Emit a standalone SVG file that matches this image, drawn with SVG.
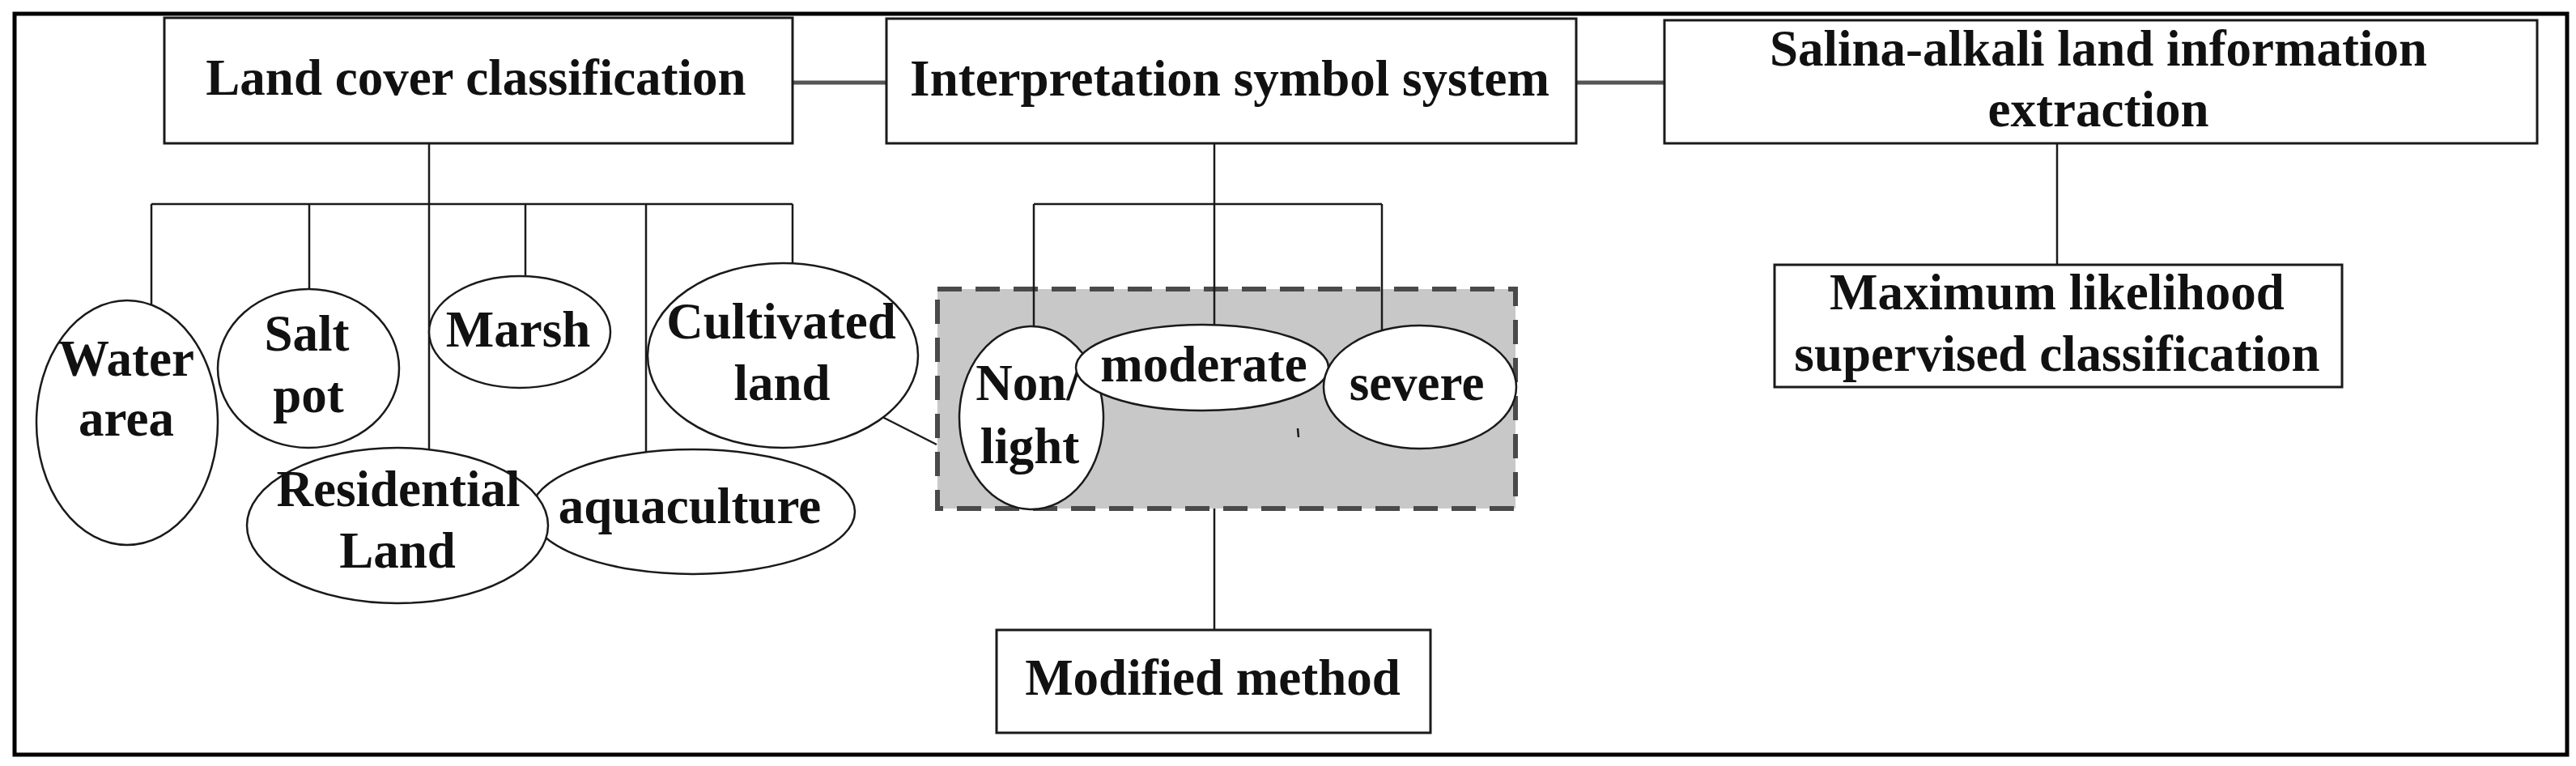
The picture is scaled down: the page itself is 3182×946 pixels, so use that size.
<svg xmlns="http://www.w3.org/2000/svg" width="3182" height="946" viewBox="0 0 3182 946">
<style>
.t{font-family:"Liberation Serif","Times New Roman",serif;font-weight:bold;font-size:63px;text-anchor:middle;fill:#111}
.box{fill:#fff;stroke:#1a1a1a;stroke-width:3}
.ell{fill:#fff;stroke:#1a1a1a;stroke-width:2.5}
.ln{stroke:#1a1a1a;stroke-width:2.5;fill:none}
.thick{stroke:#555;stroke-width:5;fill:none}
</style>
<rect width="3182" height="946" fill="#fff"/>
<rect id="frame" x="18" y="17" width="3153" height="915" fill="none" stroke="#000" stroke-width="5"/>
<g id="severity-group">
<rect x="1158" y="357" width="714" height="271" fill="#c8c8c8" stroke="#4a4a4a" stroke-width="6" stroke-dasharray="30 17"/>
</g>
<g id="connectors">
<line class="thick" x1="979" y1="102" x2="1095" y2="102"/>
<line class="thick" x1="1947" y1="102" x2="2056" y2="102"/>
<line class="ln" x1="530" y1="177" x2="530" y2="556"/>
<line class="ln" x1="187" y1="252" x2="979" y2="252"/>
<line class="ln" x1="187" y1="252" x2="187" y2="380"/>
<line class="ln" x1="382" y1="252" x2="382" y2="359"/>
<line class="ln" x1="649" y1="252" x2="649" y2="343"/>
<line class="ln" x1="798" y1="252" x2="798" y2="559"/>
<line class="ln" x1="979" y1="252" x2="979" y2="327"/>
<line class="ln" x1="1500" y1="177" x2="1500" y2="402"/>
<line class="ln" x1="1277" y1="252" x2="1707" y2="252"/>
<line class="ln" x1="1277" y1="252" x2="1277" y2="404"/>
<line class="ln" x1="1707" y1="252" x2="1707" y2="409"/>
<line class="ln" x1="1500" y1="628" x2="1500" y2="778"/>
<line class="ln" x1="2541" y1="177" x2="2541" y2="327"/>
<line class="ln" x1="1090" y1="515" x2="1157" y2="549"/>
<line class="ln" x1="1603" y1="529" x2="1604" y2="540" stroke-width="2"/>
</g>
<g id="land-cover">
<rect class="box" x="203" y="22" width="776" height="155"/>
<text class="t" x="588" y="117">Land cover classification</text>
</g>
<g id="interpretation">
<rect class="box" x="1095" y="23" width="852" height="154"/>
<text class="t" x="1519" y="118">Interpretation symbol system</text>
</g>
<g id="salina">
<rect class="box" x="2056" y="25" width="1078" height="152"/>
<text class="t" x="2592" y="81">Salina-alkali land information</text>
<text class="t" x="2592" y="156">extraction</text>
</g>
<g id="max-likelihood">
<rect class="box" x="2192" y="327" width="701" height="151"/>
<text class="t" x="2541" y="382">Maximum likelihood</text>
<text class="t" x="2541" y="458">supervised classification</text>
</g>
<g id="modified">
<rect class="box" x="1231" y="778" width="536" height="127"/>
<text class="t" x="1498" y="858">Modified method</text>
</g>
<g id="water-area">
<ellipse class="ell" cx="157" cy="522" rx="112" ry="151"/>
<text class="t" x="156" y="464">Water</text>
<text class="t" x="156" y="538">area</text>
</g>
<g id="salt-pot">
<ellipse class="ell" cx="381" cy="455" rx="112" ry="98"/>
<text class="t" x="379" y="433">Salt</text>
<text class="t" x="381" y="509">pot</text>
</g>
<g id="marsh">
<ellipse class="ell" cx="642" cy="410" rx="112" ry="69"/>
<text class="t" x="640" y="428">Marsh</text>
</g>
<g id="cultivated">
<ellipse class="ell" cx="967" cy="439" rx="167" ry="114"/>
<text class="t" x="965" y="418">Cultivated</text>
<text class="t" x="966" y="494">land</text>
</g>
<g id="aquaculture">
<ellipse class="ell" cx="856" cy="632" rx="200" ry="77"/>
<text class="t" x="852" y="646">aquaculture</text>
</g>
<g id="residential">
<ellipse class="ell" cx="491" cy="649" rx="186" ry="96"/>
<text class="t" x="492" y="625">Residential</text>
<text class="t" x="491" y="701">Land</text>
</g>
<g id="non-light">
<ellipse class="ell" cx="1274" cy="516" rx="89" ry="113"/>
<text class="t" x="1270" y="494">Non/</text>
<text class="t" x="1272" y="572">light</text>
</g>
<g id="moderate">
<ellipse class="ell" cx="1485" cy="454" rx="156" ry="53"/>
<text class="t" x="1487" y="471">moderate</text>
</g>
<g id="severe">
<ellipse class="ell" cx="1754" cy="478" rx="119" ry="76"/>
<text class="t" x="1750" y="494">severe</text>
</g>
</svg>
